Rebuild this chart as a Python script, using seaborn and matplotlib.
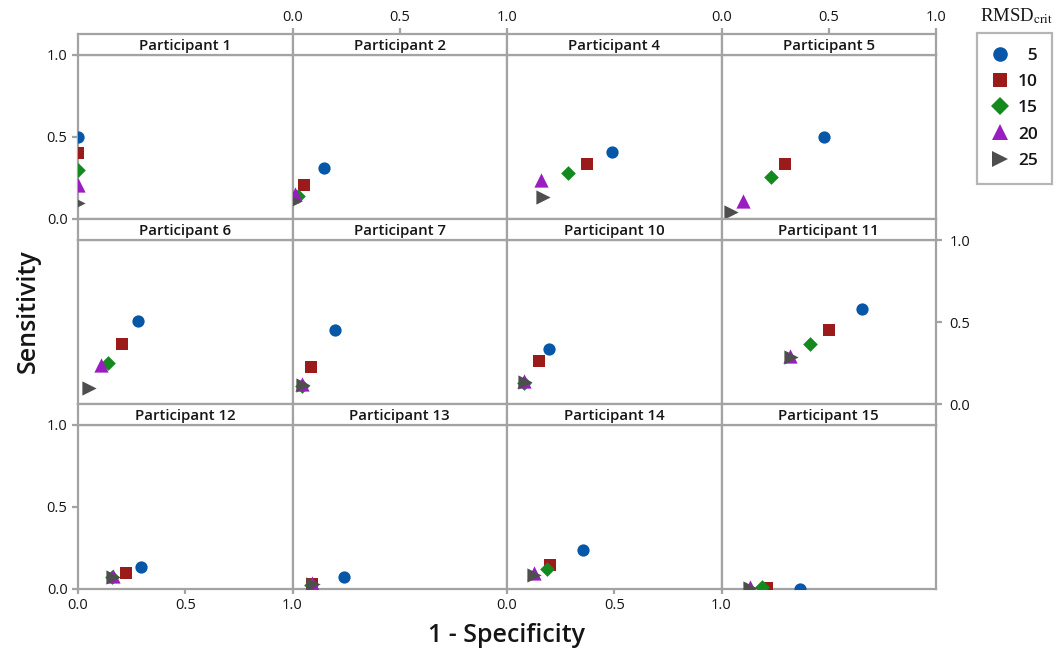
import numpy as np
import pandas as pd
import matplotlib
matplotlib.use("Agg")
import matplotlib.pyplot as plt
from matplotlib.lines import Line2D
import seaborn as sns

# ---- data -------------------------------------------------------------
participants = [1, 2, 4, 5, 6, 7, 10, 11, 12, 13, 14, 15]
rmsd_levels = [5, 10, 15, 20, 25]

# 1 - specificity for each participant, one value per RMSD_crit level
one_minus_spec = [
    [0.00, 0.00, 0.00, 0.00, 0.00],
    [0.145, 0.055, 0.025, 0.010, 0.010],
    [0.490, 0.373, 0.284, 0.158, 0.166],
    [0.480, 0.294, 0.230, 0.098, 0.045],
    [0.278, 0.207, 0.141, 0.109, 0.053],
    [0.199, 0.084, 0.045, 0.045, 0.050],
    [0.196, 0.151, 0.080, 0.080, 0.085],
    [0.653, 0.499, 0.412, 0.320, 0.325],
    [0.295, 0.224, 0.160, 0.165, 0.165],
    [0.242, 0.090, 0.085, 0.090, 0.095],
    [0.356, 0.200, 0.185, 0.125, 0.125],
    [0.368, 0.213, 0.190, 0.132, 0.135],
]

# sensitivity for each participant, one value per RMSD_crit level
sensitivity = [
    [0.500, 0.400, 0.300, 0.210, 0.100],
    [0.310, 0.210, 0.140, 0.150, 0.110],
    [0.410, 0.337, 0.279, 0.240, 0.136],
    [0.500, 0.337, 0.254, 0.110, 0.045],
    [0.508, 0.368, 0.252, 0.238, 0.100],
    [0.451, 0.228, 0.110, 0.120, 0.115],
    [0.335, 0.264, 0.130, 0.140, 0.135],
    [0.577, 0.451, 0.366, 0.290, 0.285],
    [0.134, 0.098, 0.075, 0.080, 0.075],
    [0.075, 0.030, 0.025, 0.035, 0.030],
    [0.238, 0.146, 0.120, 0.095, 0.085],
    [0.000, 0.005, 0.010, 0.015, 0.005],
]

tick_values = [0.0, 0.5, 1.0]
tick_labels = ["0.0", "0.5", "1.0"]

# ---- styling ----------------------------------------------------------
palette = {5: "#0757A8", 10: "#9B1A1A", 15: "#14891E", 20: "#9A1DBF", 25: "#4E4E4E"}
markers = {5: "o", 10: "s", 15: "D", 20: "^", 25: ">"}
sizes = {5: 78, 10: 70, 15: 56, 20: 105, 25: 105}

sns.set_theme(style="white")
plt.rcParams["font.family"] = ["Open Sans", "DejaVu Sans"]
plt.rcParams["mathtext.fontset"] = "stix"

frame_col = "#A3A3A3"
frame_lw = 1.6
text_col = "#151515"

rows = []
for p, xs, ys in zip(participants, one_minus_spec, sensitivity):
    for r, x, y in zip(rmsd_levels, xs, ys):
        rows.append({"participant": p, "rmsd": r, "fpr": x, "sens": y})
df = pd.DataFrame(rows)

W, H = 1060, 654
fig = plt.figure(figsize=(W / 100, H / 100), dpi=100)

left0, col_w = 78, 214.5
top0, row_step, plot_h, strip_h = 55, 185, 164, 21


def fig_rect(x, y_top, w, h):
    return [x / W, 1 - (y_top + h) / H, w / W, h / H]


def style_frame(ax):
    for s in ax.spines.values():
        s.set_color(frame_col)
        s.set_linewidth(frame_lw)
        s.set_visible(True)
    ax.tick_params(colors=frame_col, labelcolor=text_col, length=4.5,
                   width=frame_lw, labelsize=10.5)


for i, p in enumerate(participants):
    r, c = divmod(i, 4)
    x_left = left0 + c * col_w
    y_top = top0 + r * row_step

    ax = fig.add_axes(fig_rect(x_left, y_top, col_w, plot_h))
    sub = df[df["participant"] == p]
    for lvl in rmsd_levels:
        part = sub[sub["rmsd"] == lvl]
        sns.scatterplot(data=part, x="fpr", y="sens", color=palette[lvl],
                        marker=markers[lvl], s=sizes[lvl], linewidth=0,
                        ax=ax, legend=False, zorder=3)
    ax.set_xlim(0, 1)
    ax.set_ylim(0, 1)
    ax.set_xlabel("")
    ax.set_ylabel("")
    style_frame(ax)
    ax.set_xticks([])
    ax.set_yticks([])

    if c == 0 and r in (0, 2):
        ax.set_yticks(tick_values, tick_labels)
        ax.tick_params(axis="y", left=True, labelleft=True, direction="out",
                       pad=3)
    if c == 3 and r == 1:
        ax.set_yticks(tick_values, tick_labels)
        ax.yaxis.tick_right()
        ax.tick_params(axis="y", right=True, labelright=True, left=False,
                       labelleft=False, direction="out", pad=5)
    if r == 2 and c in (0, 2):
        ax.set_xticks(tick_values, tick_labels)
        ax.tick_params(axis="x", bottom=True, labelbottom=True, direction="out",
                       length=3.5, pad=3)

    # title strip above each panel
    sax = fig.add_axes(fig_rect(x_left, y_top - strip_h, col_w, strip_h))
    sax.set_xlim(0, 1)
    sax.set_ylim(0, 1)
    sax.set_facecolor("white")
    style_frame(sax)
    sax.set_xticks([])
    sax.set_yticks([])
    sax.text(0.5, 0.45, f"Participant {p}", ha="center", va="center",
             fontsize=10.8, fontweight="semibold", color=text_col)
    if r == 0 and c in (1, 3):
        sax.set_xticks(tick_values, tick_labels)
        sax.xaxis.tick_top()
        sax.tick_params(axis="x", top=True, labeltop=True, bottom=False,
                        labelbottom=False, direction="out", pad=2)

# axis titles
fig.text(28 / W, 1 - 311 / H, "Sensitivity", rotation=90, ha="center",
         va="center", fontsize=18, fontweight="semibold", color=text_col)
fig.text(507 / W, 1 - 636 / H, "1 - Specificity", ha="center", va="center",
         fontsize=18, fontweight="semibold", color=text_col)

# legend
handles = [Line2D([], [], linestyle="none", marker=markers[l], color=palette[l],
                  markersize=(12 if markers[l] in "^>" else 10.5 if markers[l] == "o" else 9.5),
                  markeredgewidth=0)
           for l in rmsd_levels]
labels = ["\u2007" + str(l) if l < 10 else str(l) for l in rmsd_levels]
leg = fig.legend(handles, labels, loc="upper left",
                 bbox_to_anchor=(977 / W, 1 - 33 / H), frameon=True,
                 fancybox=False, edgecolor=frame_col, fontsize=12.5,
                 handlelength=1.0, handletextpad=0.5, labelspacing=0.58,
                 borderpad=0.85, borderaxespad=0)
leg.get_frame().set_linewidth(frame_lw)
for t in leg.get_texts():
    t.set_fontweight("semibold")
    t.set_color(text_col)

fig.text(1016 / W, 1 - 16 / H, r"RMSD$_{\mathrm{crit}}$", ha="center",
         va="center", fontsize=13.5, family="Liberation Serif", color=text_col)

fig.savefig("out.png", dpi=100)
